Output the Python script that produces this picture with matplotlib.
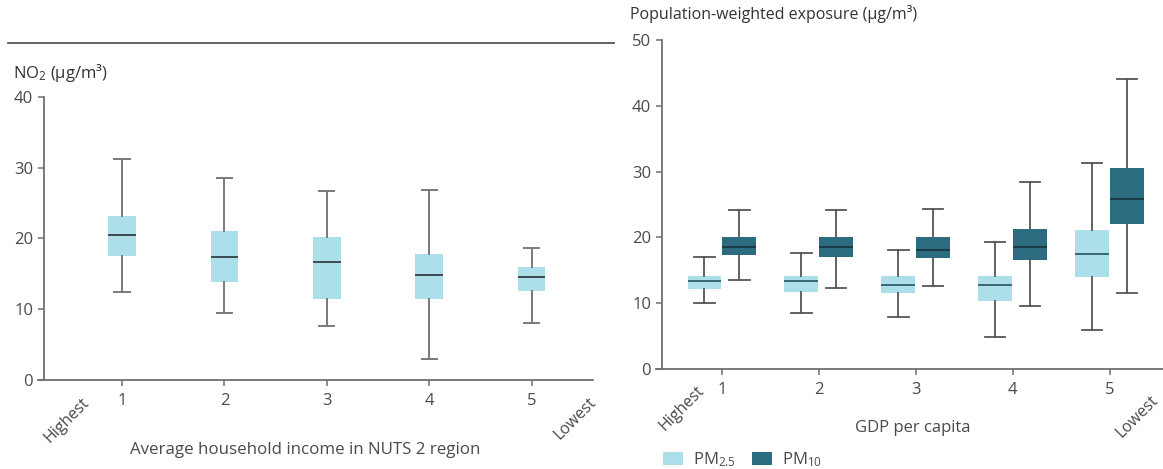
import matplotlib
matplotlib.use("Agg")
import matplotlib.pyplot as plt
from matplotlib.lines import Line2D
from matplotlib.patches import Patch

plt.rcParams["font.family"] = ["Open Sans", "DejaVu Sans"]
plt.rcParams["mathtext.default"] = "regular"

# left panel: NO2 by household income group
income_groups = [1, 2, 3, 4, 5]
no2_low = [12.5, 9.5, 7.6, 3.0, 8.0]
no2_q1 = [17.5, 13.8, 11.5, 11.4, 12.6]
no2_med = [20.5, 17.4, 16.7, 14.9, 14.5]
no2_q3 = [23.2, 21.0, 20.2, 17.8, 16.0]
no2_high = [31.2, 28.5, 26.7, 26.9, 18.6]

# right panel: PM by GDP per capita group
gdp_groups = [1, 2, 3, 4, 5]
pm25_low = [10.0, 8.5, 7.9, 4.9, 5.9]
pm25_q1 = [12.2, 11.7, 11.6, 10.4, 14.0]
pm25_med = [13.4, 13.4, 12.7, 12.7, 17.5]
pm25_q3 = [14.2, 14.2, 14.2, 14.2, 21.1]
pm25_high = [17.0, 17.6, 18.1, 19.3, 31.3]

pm10_low = [13.5, 12.3, 12.6, 9.5, 11.6]
pm10_q1 = [17.4, 17.0, 16.9, 16.5, 22.1]
pm10_med = [18.6, 18.6, 18.1, 18.5, 25.9]
pm10_q3 = [20.0, 20.0, 20.0, 21.3, 30.6]
pm10_high = [24.1, 24.2, 24.3, 28.4, 44.0]

LIGHT = "#ACDFEA"
DARK = "#2C6C80"
AXC = "#6f6f6f"
TXT = "#4a4a4a"


def stats(lo, q1, med, q3, hi):
    return [dict(whislo=a, q1=b, med=c, q3=d, whishi=e, fliers=[])
            for a, b, c, d, e in zip(lo, q1, med, q3, hi)]


def style_axis(ax):
    for s in ["top", "right"]:
        ax.spines[s].set_visible(False)
    for s in ["left", "bottom"]:
        ax.spines[s].set_color(AXC)
        ax.spines[s].set_linewidth(1.3)
    ax.tick_params(colors=AXC, labelcolor=TXT, labelsize=12, length=4, width=1.1)
    ax.tick_params(axis="x", pad=5)
    ax.spines["left"].set_position(("outward", -4))


fig = plt.figure(figsize=(11.63, 4.69), dpi=100)

# ---- left panel
ax1 = fig.add_axes([0.0327, 1 - 380 / 469, 0.4772, 283 / 469])
ax1.bxp(stats(no2_low, no2_q1, no2_med, no2_q3, no2_high), positions=income_groups,
        widths=0.27, capwidths=0.15, patch_artist=True, showfliers=False,
        boxprops=dict(facecolor=LIGHT, edgecolor="none"),
        whiskerprops=dict(color="#7a7a7a", linewidth=1.4),
        capprops=dict(color="#7a7a7a", linewidth=1.4),
        medianprops=dict(color="#3b4a50", linewidth=1.4))
ax1.set_xlim(0.18, 5.6)
ax1.set_ylim(0, 40)
ax1.set_yticks([0, 10, 20, 30, 40])
ax1.set_xticks(income_groups)
ax1.set_xticklabels([str(g) for g in income_groups])
style_axis(ax1)
tr1 = ax1.get_xaxis_transform()
ax1.text(0.60, -0.05, "Highest", transform=tr1, rotation=45, rotation_mode="anchor",
         ha="right", va="top", fontsize=11.5, color=TXT)
ax1.text(5.55, -0.05, "Lowest", transform=tr1, rotation=45, rotation_mode="anchor",
         ha="right", va="top", fontsize=11.5, color=TXT)
fig.text(305 / 1163, 1 - 450 / 469, "Average household income in NUTS 2 region",
         ha="center", va="center", fontsize=12.2, color=TXT)
fig.text(13 / 1163, 1 - 73 / 469, "NO$_2$ (µg/m³)", ha="left", va="center",
         fontsize=12, color="#333333")
fig.add_artist(Line2D([8 / 1163, 614 / 1163], [1 - 43 / 469, 1 - 43 / 469],
                      color="#555555", linewidth=1.3))

# ---- right panel
ax2 = fig.add_axes([656 / 1163, 1 - 369 / 469, 1 - 656 / 1163, 329 / 469])
off = 0.18
common = dict(widths=0.35, capwidths=0.21, patch_artist=True, showfliers=False,
              whiskerprops=dict(color="#555555", linewidth=1.3),
              capprops=dict(color="#555555", linewidth=1.3))
ax2.bxp(stats(pm25_low, pm25_q1, pm25_med, pm25_q3, pm25_high),
        positions=[g - off for g in gdp_groups],
        boxprops=dict(facecolor=LIGHT, edgecolor="none"),
        medianprops=dict(color="#3a6675", linewidth=1.4), **common)
ax2.bxp(stats(pm10_low, pm10_q1, pm10_med, pm10_q3, pm10_high),
        positions=[g + off for g in gdp_groups],
        boxprops=dict(facecolor=DARK, edgecolor="none"),
        medianprops=dict(color="#1b3a45", linewidth=1.4), **common)
ax2.set_xlim(0.32, 5.55)
ax2.set_ylim(0, 50)
ax2.set_yticks([0, 10, 20, 30, 40, 50])
ax2.set_xticks(gdp_groups)
ax2.set_xticklabels([str(g) for g in gdp_groups])
style_axis(ax2)
tr2 = ax2.get_xaxis_transform()
ax2.text(0.74, -0.04, "Highest", transform=tr2, rotation=45, rotation_mode="anchor",
         ha="right", va="top", fontsize=11.5, color=TXT)
ax2.text(5.42, -0.07, "Lowest", transform=tr2, rotation=45, rotation_mode="anchor",
         ha="right", va="top", fontsize=11.5, color=TXT)
fig.text(913 / 1163, 1 - 428 / 469, "GDP per capita", ha="center", va="center",
         fontsize=12, color=TXT)
fig.text(630 / 1163, 1 - 14 / 469, "Population-weighted exposure (µg/m³)",
         ha="left", va="center", fontsize=11.5, color="#333333")

handles = [Patch(facecolor=LIGHT, edgecolor="none", label="PM$_{2.5}$"),
           Patch(facecolor=DARK, edgecolor="none", label="PM$_{10}$")]
fig.legend(handles=handles, loc="center left", bbox_to_anchor=(648 / 1163, 1 - 460 / 469),
           ncol=2, frameon=False, fontsize=12, handlelength=1.2, handleheight=0.8,
           columnspacing=1.0, handletextpad=0.6, labelcolor=TXT)

fig.savefig("out.png", dpi=100)
